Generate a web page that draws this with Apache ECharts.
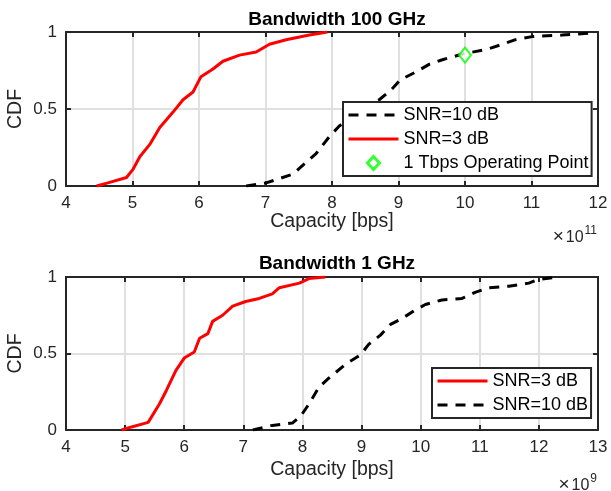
<!DOCTYPE html>
<html>
<head>
<meta charset="utf-8">
<script src="https://cdn.jsdelivr.net/npm/echarts@6/dist/echarts.min.js"></script>
<style>
html,body{margin:0;padding:0;background:#fff;}
#c{width:611px;height:491px;}
</style>
</head>
<body>
<div id="c"></div>
<script>
// ---- Data (x in axis units: top ×1e11 bps, bottom ×1e9 bps) ----
var top_snr10_x = [6.71, 7.01, 7.41, 7.76, 7.96, 8.11, 8.3, 8.5, 8.71, 8.88, 9.03, 9.26, 9.46, 9.66, 9.99, 10.31, 10.56, 10.76, 11.01, 11.46, 11.96];
var top_snr10_y = [0.0, 0.02, 0.077, 0.21, 0.32, 0.39, 0.45, 0.51, 0.56, 0.62, 0.69, 0.74, 0.79, 0.82, 0.86, 0.885, 0.92, 0.95, 0.97, 0.98, 0.995];
var top_snr3_x = [4.46, 4.63, 4.91, 5.01, 5.11, 5.26, 5.41, 5.61, 5.76, 5.91, 6.03, 6.21, 6.36, 6.61, 6.86, 7.06, 7.31, 7.66, 7.93];
var top_snr3_y = [0.0, 0.02, 0.055, 0.11, 0.19, 0.27, 0.38, 0.48, 0.56, 0.61, 0.71, 0.76, 0.81, 0.85, 0.87, 0.92, 0.95, 0.98, 1.0];
var top_op_x = [10];
var top_op_y = [0.85];

var bot_snr3_x = [4.94, 5.11, 5.39, 5.58, 5.70, 5.86, 6.00, 6.17, 6.26, 6.40, 6.48, 6.65, 6.82, 7.04, 7.27, 7.49, 7.61, 7.95, 8.11, 8.39];
var bot_snr3_y = [0.0, 0.02, 0.05, 0.17, 0.26, 0.39, 0.47, 0.51, 0.60, 0.63, 0.71, 0.75, 0.81, 0.84, 0.86, 0.89, 0.93, 0.96, 0.99, 1.0];
var bot_snr10_x = [7.16, 7.49, 7.83, 7.97, 8.11, 8.28, 8.45, 8.73, 8.98, 9.12, 9.32, 9.49, 9.69, 9.89, 10.08, 10.36, 10.70, 10.92, 11.15, 11.49, 11.83, 12.0, 12.33];
var bot_snr10_y = [0.0, 0.03, 0.045, 0.09, 0.17, 0.28, 0.34, 0.43, 0.49, 0.56, 0.62, 0.69, 0.73, 0.78, 0.82, 0.85, 0.86, 0.90, 0.93, 0.94, 0.96, 0.985, 1.0];

var topXRange = [4, 12];
var botXRange = [4, 13];
var yRange = [0, 1];

function pairs(xs, ys) { return xs.map(function (x, i) { return [x, ys[i]]; }); }

var FONT = "'Liberation Sans', Arial, Helvetica, sans-serif";
var AX = '#262626';
var GRIDC = '#e0e0e0';

function mkX(gi, range, pos, main, nameGap) {
  return {
    type: 'value', gridIndex: gi, min: range[0], max: range[1], interval: 1, position: pos,
    axisLine: { show: true, onZero: false, lineStyle: { color: AX, width: 2 } },
    axisTick: { show: true, inside: true, length: 5, lineStyle: { color: AX, width: 2 } },
    axisLabel: { show: main, color: AX, fontSize: 17, fontFamily: FONT, margin: 9 },
    splitLine: { show: main, lineStyle: { color: GRIDC, width: 2 } },
    name: main ? 'Capacity [bps]' : '', nameLocation: 'middle', nameGap: nameGap, nameMoveOverlap: false,
    nameTextStyle: { color: AX, fontSize: 19.5, fontFamily: FONT }
  };
}
function mkY(gi, pos, main) {
  return {
    type: 'value', gridIndex: gi, min: yRange[0], max: yRange[1], interval: 0.5, position: pos,
    axisLine: { show: true, onZero: false, lineStyle: { color: AX, width: 2 } },
    axisTick: { show: true, inside: true, length: 5, lineStyle: { color: AX, width: 2 } },
    axisLabel: { show: main, color: AX, fontSize: 17, fontFamily: FONT, margin: 9 },
    splitLine: { show: main, lineStyle: { color: GRIDC, width: 2 } },
    name: main ? 'CDF' : '', nameLocation: 'middle', nameGap: 40, nameRotate: 90, nameMoveOverlap: false,
    nameTextStyle: { color: AX, fontSize: 19.5, fontFamily: FONT }
  };
}

var dashed = { color: '#000', width: 3, type: [10, 8] };
var solid = { color: '#ff0000', width: 3 };
var hideSym = { opacity: 0 };
var DIAMOND_ICON = 'path://M0,7L0.01,7M25,0.5L31,7L25,13.5L19,7ZM49.99,7L50,7';

var legendCommon = {
  orient: 'vertical', itemWidth: 50, itemHeight: 14, itemGap: 6,
  padding: [4, 3, 4, 4],
  lineStyle: { width: 3 },
  backgroundColor: '#fff', borderColor: AX, borderWidth: 2, borderRadius: 0,
  textStyle: { fontSize: 18, color: '#000', fontFamily: FONT },
  selectedMode: false
};

var option = {
  animation: false,
  backgroundColor: '#fff',
  textStyle: { fontFamily: FONT },
  title: [
    { text: 'Bandwidth 100 GHz', left: 332, top: 5, textAlign: 'center',
      textStyle: { fontSize: 19, fontWeight: 'bold', color: '#000', fontFamily: FONT } },
    { text: 'Bandwidth 1 GHz', left: 332, top: 249, textAlign: 'center',
      textStyle: { fontSize: 19, fontWeight: 'bold', color: '#000', fontFamily: FONT } }
  ],
  grid: [
    { left: 66, top: 32, width: 532, height: 154, outerBoundsMode: 'none', containLabel: false },
    { left: 66, top: 277, width: 532, height: 153, outerBoundsMode: 'none', containLabel: false }
  ],
  xAxis: [
    mkX(0, topXRange, 'bottom', true, 26),
    mkX(0, topXRange, 'top', false, 0),
    mkX(1, botXRange, 'bottom', true, 30),
    mkX(1, botXRange, 'top', false, 0)
  ],
  yAxis: [
    mkY(0, 'left', true),
    mkY(0, 'right', false),
    mkY(1, 'left', true),
    mkY(1, 'right', false)
  ],
  legend: [
    Object.assign({}, legendCommon, {
      left: 343, top: 102,
      data: [
        { name: 'SNR=10 dB', itemStyle: hideSym },
        { name: 'SNR=3 dB', itemStyle: hideSym },
        { name: '1 Tbps Operating Point', icon: DIAMOND_ICON,
          itemStyle: { color: '#ffffff', borderColor: '#00ff00', borderWidth: 3 } }
      ]
    }),
    Object.assign({}, legendCommon, {
      left: 432, top: 368,
      data: [
        { name: 'SNR=3 dB', itemStyle: hideSym },
        { name: 'SNR=10 dB', itemStyle: hideSym }
      ]
    })
  ],
  series: [
    { name: 'SNR=10 dB', type: 'line', xAxisIndex: 0, yAxisIndex: 0, data: pairs(top_snr10_x, top_snr10_y),
      symbol: 'circle', showSymbol: false, lineStyle: dashed, itemStyle: { color: '#000' }, z: 3 },
    { name: 'SNR=3 dB', type: 'line', xAxisIndex: 0, yAxisIndex: 0, data: pairs(top_snr3_x, top_snr3_y),
      symbol: 'circle', showSymbol: false, lineStyle: solid, itemStyle: { color: '#ff0000' }, z: 3 },
    { name: '1 Tbps Operating Point', type: 'scatter', xAxisIndex: 0, yAxisIndex: 0, data: pairs(top_op_x, top_op_y),
      symbol: 'emptyDiamond', symbolSize: [12, 15],
      itemStyle: { color: '#00ff00', borderColor: '#00ff00', borderWidth: 3 }, z: 5 },
    { name: 'SNR=3 dB', type: 'line', xAxisIndex: 2, yAxisIndex: 2, data: pairs(bot_snr3_x, bot_snr3_y),
      symbol: 'circle', showSymbol: false, lineStyle: solid, itemStyle: { color: '#ff0000' }, z: 3 },
    { name: 'SNR=10 dB', type: 'line', xAxisIndex: 2, yAxisIndex: 2, data: pairs(bot_snr10_x, bot_snr10_y),
      symbol: 'circle', showSymbol: false, lineStyle: dashed, itemStyle: { color: '#000' }, z: 3 }
  ],
  graphic: [
    { type: 'text', right: 14, top: 225, z: 10,
      style: { text: '{x|×}{a|10}{b|11}', rich: {
        x: { fontSize: 19, fill: AX, fontFamily: FONT, verticalAlign: 'bottom', padding: [0, 2, 0, 0] },
        a: { fontSize: 16, fill: AX, fontFamily: FONT, verticalAlign: 'bottom' },
        b: { fontSize: 12, fill: AX, fontFamily: FONT, verticalAlign: 'top', padding: [0, 0, 9, 1] } } } },
    { type: 'text', right: 14, top: 473, z: 10,
      style: { text: '{x|×}{a|10}{b|9}', rich: {
        x: { fontSize: 19, fill: AX, fontFamily: FONT, verticalAlign: 'bottom', padding: [0, 2, 0, 0] },
        a: { fontSize: 16, fill: AX, fontFamily: FONT, verticalAlign: 'bottom' },
        b: { fontSize: 12, fill: AX, fontFamily: FONT, verticalAlign: 'top', padding: [0, 0, 9, 1] } } } }
  ]
};

var chart = echarts.init(document.getElementById('c'), null, { renderer: 'canvas' });
chart.setOption(option);
</script>
</body>
</html>
